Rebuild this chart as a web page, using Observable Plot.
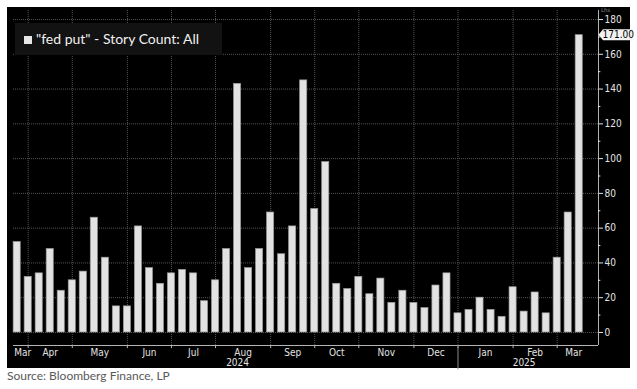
<!DOCTYPE html>
<html>
<head>
<meta charset="utf-8">
<script src="https://cdn.jsdelivr.net/npm/d3@7"></script>
<script src="https://cdn.jsdelivr.net/npm/@observablehq/plot@0.6"></script>
<style>
  body { margin: 0; background: #fff; }
  #wrap { position: absolute; left: 7px; top: 7px; width: 623px; height: 361px; background: #000; }
  #legend { position: absolute; left: 8px; top: 16px; width: 207px; height: 32px; background: #121212;
            font-family: Lato, "Open Sans", sans-serif; font-size: 14px; color: #f0f0f0; line-height: 32px; white-space: nowrap; }
  #legend .sw { position: absolute; left: 9px; top: 13px; width: 8px; height: 8px; background: #e6e6e6; }
  #legend .tx { position: absolute; left: 21px; top: 0; }
  #source { position: absolute; left: 7px; top: 369px; font-family: Lato, "Open Sans", sans-serif; font-size: 12px; line-height: 14px; color: #595959; }
</style>
</head>
<body>
<div id="wrap">
  <div id="chart"></div>
  <div id="legend"><span class="sw"></span><span class="tx">"fed put" - Story Count: All</span></div>
</div>
<div id="source">Source: Bloomberg Finance, LP</div>
<script>
// Weekly story counts for "fed put" (week ending Fridays)
const firstWeek = new Date(Date.UTC(2024, 2, 29));
const lastWeekStop = new Date(Date.UTC(2025, 2, 22));
const weekEnding = d3.utcFriday.range(firstWeek, lastWeekStop);
const counts = [52, 32, 34, 48, 24, 30, 35, 66, 43, 15, 15, 61, 37, 28, 34, 36, 34, 18, 30, 48,
                143, 37, 48, 69, 45, 61, 145, 71, 98, 28, 25, 32, 22, 31, 17, 24, 17, 14, 27, 34,
                11, 13, 20, 13, 9, 26, 12, 23, 11, 43, 69, 171];
const yTicks = [0, 20, 40, 60, 80, 100, 120, 140, 160, 180];
const yMinor = [10, 30, 50, 70, 90, 110, 130, 150, 170];
const lastLabel = "171.00";
const seriesName = "Lhs";

const data = weekEnding.map((date, i) => ({date, count: counts[i]}));
const fmtMonth = d3.utcFormat("%b");
const fmtYear = d3.utcFormat("%Y");

// month boundaries: first bar of each month
const monthStartIdx = weekEnding.map((d, i) => i).filter(i => i === 0 || weekEnding[i].getUTCMonth() !== weekEnding[i - 1].getUTCMonth());
const endDate = d3.utcDay.offset(weekEnding[weekEnding.length - 1], 7);
const monthTicks = monthStartIdx.filter(i => i > 0).map(i => weekEnding[i]);
const monthLabels = monthStartIdx.map((i, k) => {
  const a = weekEnding[i];
  const b = k + 1 < monthStartIdx.length ? weekEnding[monthStartIdx[k + 1]] : endDate;
  return {mid: new Date((+a + +b) / 2), label: fmtMonth(a)};
});
const yearStartIdx = weekEnding.map((d, i) => i).filter(i => i === 0 || weekEnding[i].getUTCFullYear() !== weekEnding[i - 1].getUTCFullYear());
const yearTicks = yearStartIdx.filter(i => i > 0).map(i => weekEnding[i]);
const yearLabels = yearStartIdx.map((i, k) => {
  const a = weekEnding[i];
  const b = k + 1 < yearStartIdx.length ? weekEnding[yearStartIdx[k + 1]] : endDate;
  return {mid: new Date((+a + +b) / 2), label: fmtYear(a)};
});

const xStart = d3.utcHour.offset(weekEnding[0], -56);
const xEnd = d3.utcHour.offset(weekEnding[weekEnding.length - 1], 294);
const yMin = -7.5, yMax = 185.2;

const axisColor = "#b4b4b4";
const gridColor = "#555";
const txtColor = "#e4e4e4";

const callout = (index, scales, values, dimensions) => {
  const g = d3.create("svg:g").attr("text-anchor", "start");
  const x0 = scales.x(xEnd);
  const y = scales.y(counts[counts.length - 1]);
  g.append("path")
    .attr("d", `M${x0 + 0.5},${y} L${x0 + 5},${y - 5.5} L${x0 + 34},${y - 5.5} L${x0 + 34},${y + 5.5} L${x0 + 5},${y + 5.5} Z`)
    .attr("fill", "#f2f2f2");
  g.append("text").attr("x", x0 + 4.5).attr("y", y).attr("dy", "0.36em")
    .attr("fill", "#000").attr("font-size", 10).text(lastLabel);
  g.append("text").attr("x", x0 + 3).attr("y", 3).attr("dy", "0.36em")
    .attr("fill", "#8a8a8a").attr("font-size", 6).text(seriesName);
  return g.node();
};

const chart = Plot.plot({
  width: 623,
  height: 361,
  marginLeft: 6,
  marginRight: 32,
  marginTop: 3,
  marginBottom: 23,
  style: {background: "#000", color: txtColor, fontFamily: "'DejaVu Sans Condensed', 'Liberation Sans Narrow', 'DejaVu Sans', sans-serif", fontSize: "10px", fontStretch: "condensed", overflow: "visible"},
  x: {type: "utc", domain: [xStart, xEnd], axis: null},
  y: {domain: [yMin, yMax], axis: "right", ticks: yTicks, tickSize: 4, tickPadding: 2, tickFormat: d => String(d), label: null},
  marks: [
    Plot.ruleY(yTicks, {stroke: gridColor, strokeDasharray: "1,1"}),
    Plot.ruleX(monthTicks, {stroke: gridColor, strokeDasharray: "1,1"}),
    Plot.rect(data, {
      x1: d => d3.utcHour.offset(d.date, -54),
      x2: d => d3.utcHour.offset(d.date, 54),
      y1: 0, y2: "count",
      fill: "#e2e2e2", stroke: "#9a9a9a", strokeWidth: 0.7
    }),
    Plot.ruleY([yMin], {stroke: axisColor}),
    Plot.ruleX([xEnd], {stroke: axisColor}),
    Plot.ruleX(monthTicks, {y1: yMin, y2: yMin - 1.8, stroke: axisColor}),
    Plot.ruleX(yearTicks, {y1: yMin, y2: yMin - 14, stroke: "#8a8a8a"}),
    Plot.ruleY(yMinor, {x1: xEnd, x2: d3.utcHour.offset(xEnd, 36), stroke: txtColor}),
    Plot.text(monthLabels, {x: "mid", y: () => yMin, text: "label", dy: 7.5, fill: txtColor}),
    Plot.text(yearLabels, {x: "mid", y: () => yMin, text: "label", dy: 17, fill: txtColor}),
    callout
  ]
});
document.getElementById("chart").appendChild(chart);
</script>
</body>
</html>
